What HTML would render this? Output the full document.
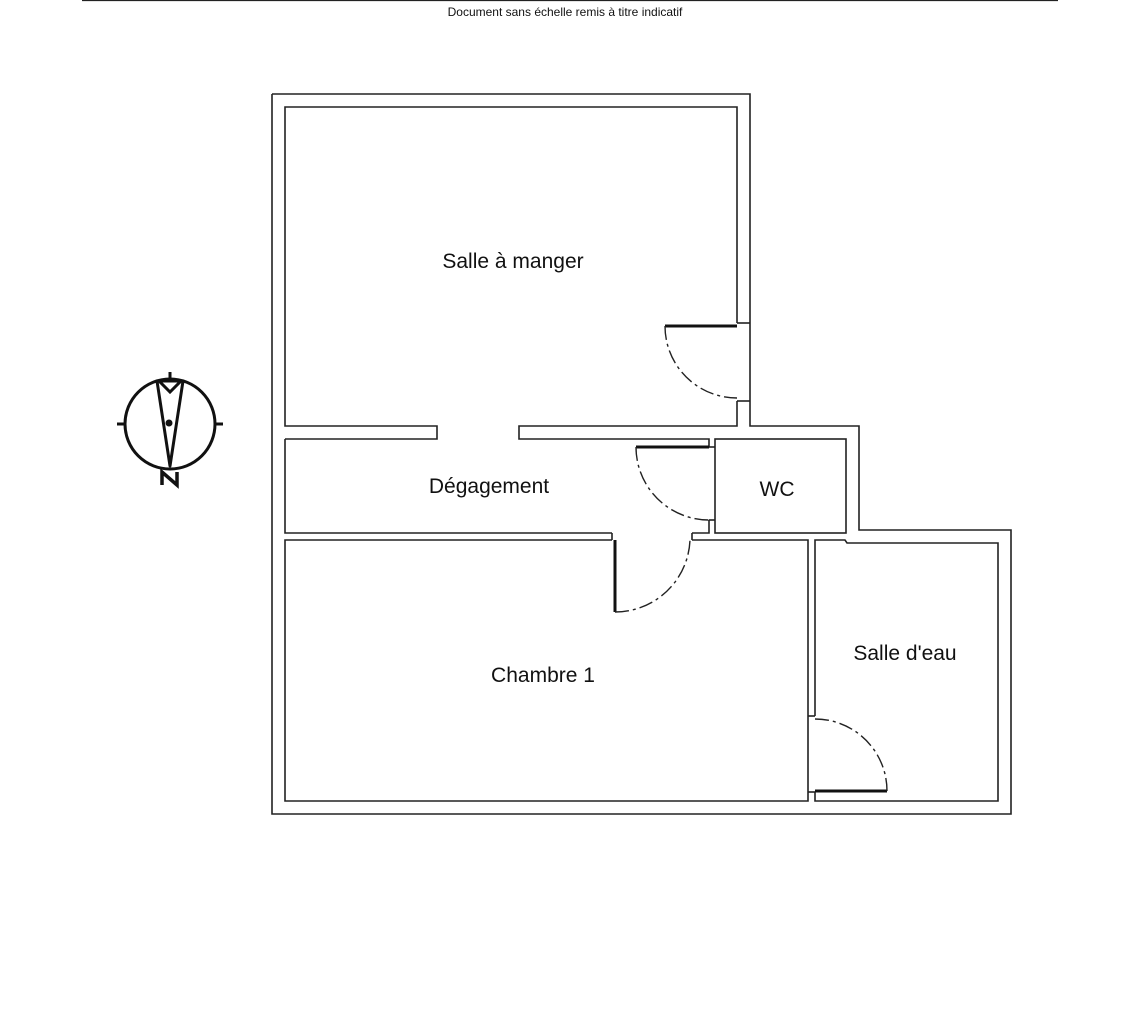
<!DOCTYPE html>
<html><head><meta charset="utf-8"><style>
html,body{margin:0;padding:0;background:#fff;}
svg{display:block;}
text{font-family:"Liberation Sans","DejaVu Sans",sans-serif;fill:#111;}
</style></head><body>
<svg width="1128" height="1026" viewBox="0 0 1128 1026" xmlns="http://www.w3.org/2000/svg">
<line x1="82" y1="0.5" x2="1058" y2="0.5" stroke="#222" stroke-width="1.2"/>
<text x="565" y="16" font-size="12" text-anchor="middle">Document sans échelle remis à titre indicatif</text>
<g fill="none" stroke="#222" stroke-width="1.6">
<polyline points="272,94 750,94 750,426 859,426 859,530 1011,530 1011,814 272,814 272,94"/>
<!-- salle a manger -->
<polyline points="737,323 737,107 285,107 285,426 437,426 437,439 285,439"/>
<polyline points="737,401 737,426 519,426 519,439 709,439 709,447"/>
<line x1="737" y1="323" x2="750" y2="323"/><line x1="737" y1="401" x2="750" y2="401"/>
<!-- degagement -->
<polyline points="285,439 285,533 612,533"/>
<polyline points="692,533 709,533 709,520"/>
<line x1="709" y1="447" x2="715" y2="447"/><line x1="709" y1="520" x2="715" y2="520"/>
<line x1="612" y1="533" x2="612" y2="540"/><line x1="692" y1="533" x2="692" y2="540"/>
<!-- wc -->
<rect x="715" y="439" width="131" height="94"/>
<!-- chambre -->
<polyline points="612,540 285,540 285,801 808,801 808,540 692,540"/>
<!-- salle d'eau -->
<polyline points="815,716 815,540 845,540 847,543 998,543 998,801 815,801 815,792"/>
<line x1="808" y1="716" x2="815" y2="716"/><line x1="808" y1="792" x2="815" y2="792"/>
</g>
<g stroke="#111" stroke-width="3" fill="none">
<line x1="665" y1="326" x2="737" y2="326"/>
<line x1="636" y1="447" x2="709" y2="447"/>
<line x1="615" y1="540" x2="615" y2="612"/>
<line x1="815" y1="791" x2="887" y2="791"/>
</g>
<g stroke="#222" stroke-width="1.4" fill="none" stroke-dasharray="14,4,3,4">
<path d="M665,326 A72,72 0 0 0 737,398"/>
<path d="M636,447 A73,73 0 0 0 709,520"/>
<path d="M615,612 A75,75 0 0 0 690,540"/>
<path d="M815,719 A72,72 0 0 1 887,791"/>
</g>
<text x="513" y="268" font-size="21" text-anchor="middle">Salle à manger</text>
<text x="489" y="493" font-size="21" text-anchor="middle">Dégagement</text>
<text x="777" y="496" font-size="21" text-anchor="middle">WC</text>
<text x="543" y="682" font-size="21" text-anchor="middle">Chambre 1</text>
<text x="905" y="660" font-size="21" text-anchor="middle">Salle d'eau</text>
<!-- compass -->
<g stroke="#111" stroke-width="3" fill="none">
<circle cx="170" cy="424" r="45"/>
<line x1="170" y1="372" x2="170" y2="380"/>
<line x1="117" y1="424" x2="125" y2="424"/>
<line x1="215" y1="424" x2="223" y2="424"/>
<polygon points="157,381 183,381 170,466" stroke-linejoin="round"/>
<polyline points="159,381 170,392 181,381"/>
<polyline points="162,485 162,472 177,485 177,472" stroke-width="3.5"/>
</g>
<circle cx="169" cy="423" r="3.5" fill="#111"/>
</svg>
</body></html>
